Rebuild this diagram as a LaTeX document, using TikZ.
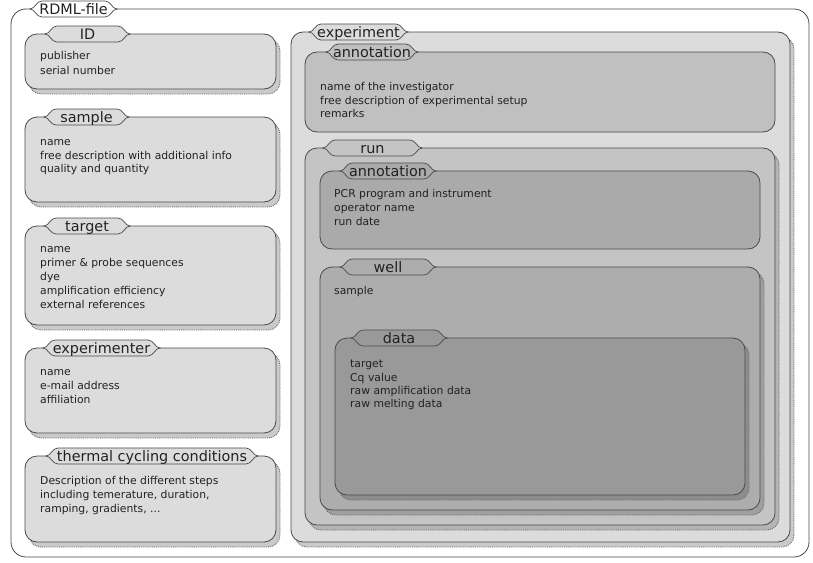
\documentclass[tikz,border=0pt]{standalone}
\usepackage{fontspec}
\setmainfont{DejaVu Sans}
\definecolor{linec}{HTML}{4A4A4A}
\definecolor{txtc}{HTML}{222222}
\definecolor{cA}{HTML}{DCDCDC}
\definecolor{cB}{HTML}{C0C0C0}
\definecolor{cC}{HTML}{C4C4C4}
\definecolor{cD}{HTML}{AAAAAA}
\definecolor{cE}{HTML}{ADADAD}
\definecolor{cF}{HTML}{999999}
\tikzset{
  boxl/.style={draw=linec, line width=0.8pt, rounded corners=12pt},
  shad/.style={draw=gray!85!black, densely dotted, line width=0.9pt, rounded corners=12pt},
  tabline/.style={draw=linec, line width=0.7pt},
  head/.style={font=\fontsize{14.4}{15}\selectfont, text=txtc, inner sep=0pt, anchor=base},
  body/.style={font=\fontsize{10.8}{13}\selectfont, text=txtc, inner sep=0pt, anchor=base west},
}
\newcommand\tabx[6]{%
  \draw[tabline,fill=#4] (#1,#3) .. controls (#1+5,#3) and (#1+6,#3-8) .. (#1+12,#3-8) -- (#2-12,#3-8) .. controls (#2-6,#3-8) and (#2-5,#3) .. (#2,#3) .. controls (#2-5,#3) and (#2-6,#3+8) .. (#2-12,#3+8) -- (#1+12,#3+8) .. controls (#1+6,#3+8) and (#1+5,#3) .. (#1,#3) -- cycle;
  \node[head] (#5) at ({(#1+#2)/2},#3+5.5) {#6};}
\newcommand\bx[6]{%
  \ifnum#6=1 \draw[shad,fill=#5!92!black] (#1+4,#2+5) rectangle (#3+4,#4+5);\fi
  \draw[boxl,fill=#5] (#1,#2) rectangle (#3,#4);}
\newcommand\tx[4]{\node[body] (#1) at (#2,#3+4) {#4};}
\begin{document}
\begin{tikzpicture}[x=1pt,y=-1pt]
\useasboundingbox (0,0) rectangle (813,562);
% outer
\draw[boxl, rounded corners=15pt, fill=white] (11,9) rectangle (809,557);
\tabx{30}{117}{9}{white}{hRDML}{RDML-file}
% ID
\bx{25}{34}{276}{89}{cA}{1}
\tabx{45}{130}{34}{cA}{hID}{ID}
\tx{t1}{40}{55}{publisher}
\tx{t2}{40}{70}{serial number}
% sample
\bx{25}{117}{276}{202}{cA}{1}
\tabx{44}{129}{117}{cA}{hsample}{sample}
\tx{t3}{40}{141}{name}
\tx{t4}{40}{155}{free description with additional info}
\tx{t5}{40}{168}{quality and quantity}
% target
\bx{25}{226}{276}{325}{cA}{1}
\tabx{44}{130}{226}{cA}{htarget}{target}
\tx{t6}{40}{248}{name}
\tx{t7}{40}{262}{primer \& probe sequences}
\tx{t8}{40}{276}{dye}
\tx{t9}{40}{290}{amplification efficiency}
\tx{t10}{40}{304}{external references}
% experimenter
\bx{25}{348}{276}{433}{cA}{1}
\tabx{43}{160}{348}{cA}{hexp}{experimenter}
\tx{t11}{40}{371}{name}
\tx{t12}{40}{385}{e-mail address}
\tx{t13}{40}{399}{affiliation}
% thermal
\bx{25}{456}{276}{542}{cA}{1}
\tabx{46}{258}{456}{cA}{htherm}{thermal cycling conditions}
\tx{t14}{40}{480}{Description of the different steps}
\tx{t15}{40}{494}{including temerature, duration,}
\tx{t16}{40}{508}{ramping, gradients, ...}
% experiment
\bx{291}{32}{790}{542}{cA}{1}
\tabx{309}{408}{32}{cA}{hexperiment}{experiment}
\bx{305}{52}{775}{132}{cB}{0}
\tabx{326}{418}{52}{cB}{hann1}{annotation}
\tx{t17}{320}{86}{name of the investigator}
\tx{t18}{320}{100}{free description of experimental setup}
\tx{t19}{320}{113}{remarks}
% run
\bx{305}{148}{775}{525}{cC}{1}
\tabx{323}{422}{148}{cC}{hrun}{run}
\bx{320}{171}{760}{249}{cD}{0}
\tabx{340}{436}{171}{cD}{hann2}{annotation}
\tx{t20}{334}{193}{PCR program and instrument}
\tx{t21}{334}{207}{operator name}
\tx{t22}{334}{221}{run date}
% well
\bx{320}{267}{760}{510}{cE}{1}
\tabx{340}{436}{267}{cE}{hwell}{well}
\tx{t23}{334}{290}{sample}
% data
\bx{335}{338}{745}{495}{cF}{1}
\tabx{351}{447}{338}{cF}{hdata}{data}
\tx{t24}{350}{363}{target}
\tx{t25}{350}{377}{Cq value}
\tx{t26}{350}{390}{raw amplification data}
\tx{t27}{350}{403}{raw melting data}
\end{tikzpicture}
\end{document}
